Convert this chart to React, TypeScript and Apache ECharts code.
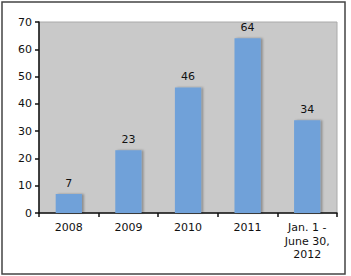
import React, { useEffect, useRef } from "react";
import * as echarts from "echarts";

const categories = ["2008", "2009", "2010", "2011", "Jan. 1 -\nJune 30,\n2012"];
const values = [7, 23, 46, 64, 34];
const yTicks = { min: 0, max: 70, interval: 10 };

export default function App() {
  const ref = useRef<HTMLDivElement>(null);
  useEffect(() => {
    document.body.style.margin = "0";
    const chart = echarts.init(ref.current!, null, { renderer: "svg" });
    const font = "DejaVu Sans";
    chart.setOption({
      animation: false,
      backgroundColor: "#ffffff",
      graphic: [
        {
          type: "rect",
          shape: { x: 2, y: 2, width: 343, height: 272 },
          style: { fill: "none", stroke: "#444", lineWidth: 1.5 },
          z: 100,
        },
      ],
      grid: {
        left: 39,
        top: 22,
        width: 298,
        height: 191,
        show: true,
        backgroundColor: "#c9c9c9",
        borderWidth: 1,
        borderColor: "#aaaaaa",
      },
      xAxis: {
        type: "category",
        data: categories,
        axisLine: { lineStyle: { color: "#111", width: 1.5 } },
        axisTick: { show: true, length: 4, lineStyle: { color: "#111", width: 1.5 } },
        axisLabel: {
          color: "#111",
          fontFamily: font,
          fontSize: 11,
          margin: 8,
          lineHeight: 13.5,
          interval: 0,
        },
        splitLine: { show: false },
      },
      yAxis: {
        type: "value",
        min: yTicks.min,
        max: yTicks.max,
        interval: yTicks.interval,
        axisLine: { show: true, lineStyle: { color: "#111", width: 1.5 } },
        axisTick: { show: true, length: 4, lineStyle: { color: "#111", width: 1.5 } },
        axisLabel: { color: "#111", fontFamily: font, fontSize: 11, margin: 7 },
        splitLine: { show: false },
      },
      series: [
        {
          type: "bar",
          data: values,
          barWidth: "44%",
          itemStyle: {
            color: "#6fa1d9",
            shadowColor: "rgba(0,0,0,0.3)",
            shadowOffsetX: 2,
            shadowOffsetY: 0,
            shadowBlur: 2,
          },
          label: {
            show: true,
            position: "top",
            distance: 5,
            color: "#111",
            fontFamily: font,
            fontSize: 11,
          },
        },
      ],
    });
    return () => chart.dispose();
  }, []);
  return <div ref={ref} style={{ width: 351, height: 276 }} />;
}
